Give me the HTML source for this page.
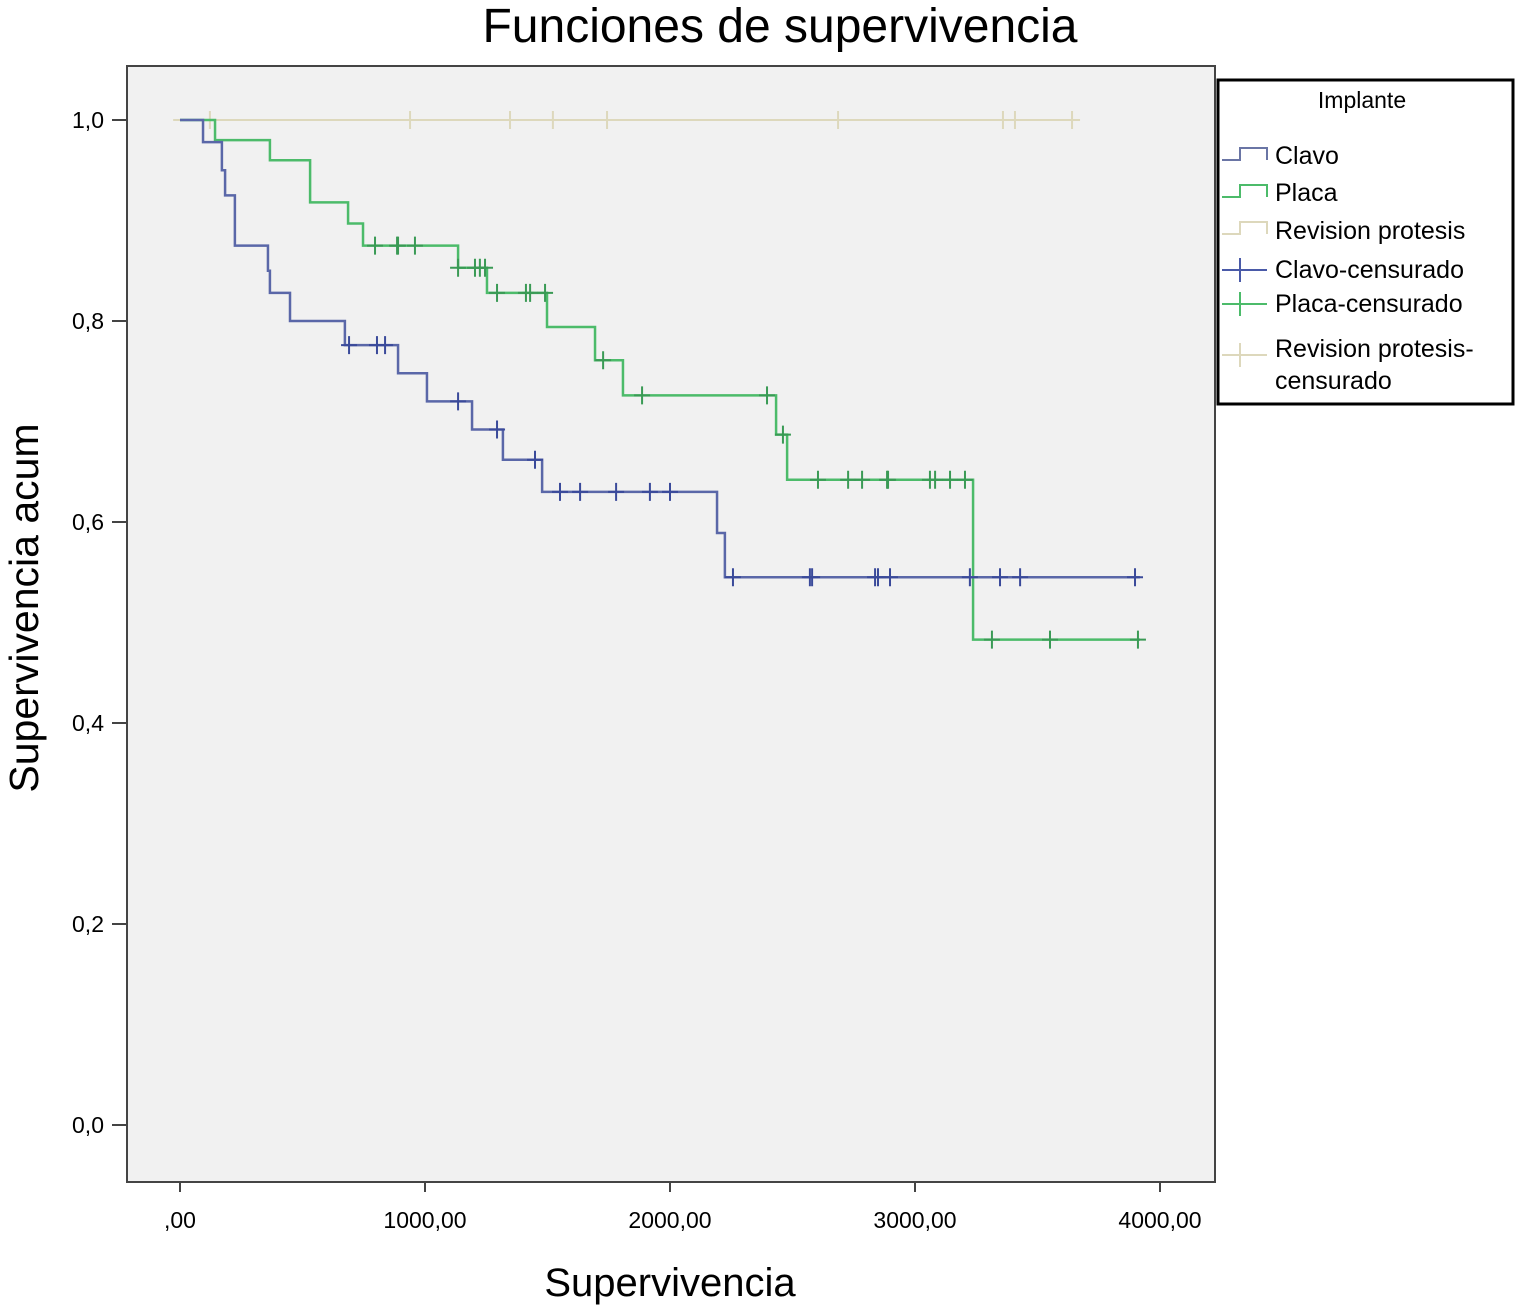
<!DOCTYPE html>
<html><head><meta charset="utf-8"><style>
body{margin:0;background:#fff;}
svg{display:block;font-family:"Liberation Sans",Arial,sans-serif;}
</style></head><body>
<svg id="c" width="1516" height="1305" viewBox="0 0 1516 1305">
<text x="780" y="42" font-size="48" text-anchor="middle">Funciones de supervivencia</text>
<rect x="127" y="66" width="1088" height="1116" fill="#f1f1f1" stroke="#444" stroke-width="2"/>
<g id="axes"></g>
<g id="marks"></g>
<text transform="translate(38,608) rotate(-90)" font-size="41" text-anchor="middle">Supervivencia acum</text>
<text x="670" y="1296" font-size="40" text-anchor="middle">Supervivencia</text>
<g>
<rect x="1218" y="80" width="295" height="324" fill="#fff" stroke="#000" stroke-width="3"/>
<text x="1362" y="108" font-size="23" text-anchor="middle">Implante</text>
<g><path d="M1222 160 H1240 V148 H1267 V160" fill="none" stroke="#6a75a5" stroke-width="2"/><text x="1275" y="164" font-size="25">Clavo</text></g>
<g><path d="M1222 197 H1240 V185 H1267 V197" fill="none" stroke="#4cbb6a" stroke-width="2"/><text x="1275" y="201" font-size="25">Placa</text></g>
<g><path d="M1222 234 H1240 V222 H1267 V234" fill="none" stroke="#ddd8bc" stroke-width="2"/><text x="1275" y="239" font-size="25">Revision protesis</text></g>
<g><path d="M1222 270 H1267 M1240 258 V282" stroke="#4a5aa8" stroke-width="2"/><text x="1275" y="278" font-size="25">Clavo-censurado</text></g>
<g><path d="M1222 304 H1267 M1240 292 V316" stroke="#4cbb6a" stroke-width="2"/><text x="1275" y="312" font-size="25">Placa-censurado</text></g>
<g><path d="M1222 355 H1267 M1240 343 V367" stroke="#ddd8bc" stroke-width="2"/><text x="1275" y="357" font-size="25">Revision protesis-</text><text x="1275" y="389" font-size="25">censurado</text></g>
</g>
</svg>
<script>
const clavoTimes=[94,171,184,224,359,367,449,673,890,1008,1192,1318,1478,2192,2224];
const clavoSurv=[0.978,0.95,0.925,0.875,0.85,0.828,0.80,0.776,0.748,0.72,0.692,0.662,0.63,0.589,0.545];
const clavoCens=[690,804,837,1135,1294,1449,1551,1633,1780,1918,2000,2257,2571,2580,2837,2849,2898,3224,3347,3429,3898];
const placaTimes=[143,367,531,686,747,1135,1253,1498,1694,1808,2433,2478,3237];
const placaSurv=[0.98,0.96,0.918,0.897,0.875,0.853,0.828,0.794,0.761,0.726,0.687,0.642,0.483];
const placaCens=[796,886,890,959,1135,1204,1224,1245,1294,1412,1429,1490,1727,1886,2396,2461,2604,2727,2784,2886,2890,3061,3082,3143,3204,3314,3551,3910];
const revCens=[122,939,1347,1522,1743,2686,3359,3408,3641];
const endTime=3918;
const xTicks=[0,1000,2000,3000,4000];
const xTickLabels=[",00","1000,00","2000,00","3000,00","4000,00"];
const yTicks=[0,0.2,0.4,0.6,0.8,1.0];
const yTickLabels=["0,0","0,2","0,4","0,6","0,8","1,0"];
const X=t=>180+t*0.245, Y=s=>1125-s*1005;
const NS="http://www.w3.org/2000/svg";
function mk(tag,attrs,parent){const e=document.createElementNS(NS,tag);for(const k in attrs)e.setAttribute(k,attrs[k]);parent.appendChild(e);return e;}
const axes=document.getElementById('axes'),marks=document.getElementById('marks');
xTicks.forEach((v,i)=>{
 const l=mk('line',{x1:X(v),x2:X(v),y1:1182,y2:1192,stroke:'#444','stroke-width':2},axes);
 
 
 const t=mk('text',{x:X(v),y:1228,'font-size':23,'text-anchor':'middle'},axes);t.textContent=xTickLabels[i];
 
 
});
yTicks.forEach((v,i)=>{
 const l=mk('line',{x1:112,x2:127,y1:Y(v),y2:Y(v),stroke:'#444','stroke-width':2},axes);
 
 
 const t=mk('text',{x:104,y:Y(v)+8,'font-size':23,'text-anchor':'end'},axes);t.textContent=yTickLabels[i];
 
 
});
function survAt(times,surv,t){let s=1;for(let i=0;i<times.length;i++){if(t>=times[i])s=surv[i];}return s;}
function stepPath(times,surv){let d=`M${X(0)} ${Y(1)}`;times.forEach((t,i)=>{d+=` H${X(t)} V${Y(surv[i])}`;});d+=` H${X(endTime)}`;return d;}
function censMarks(times,surv,cens,color,name){
 cens.forEach(t=>{const s=survAt(times,surv,t);
  const p=mk('path',{d:`M${X(t)-8} ${Y(s)} H${X(t)+8} M${X(t)} ${Y(s)-9} V${Y(s)+9}`,stroke:color,'stroke-width':2},marks);
  
  
 });
}
const rl=mk('path',{d:`M${X(-28)} ${Y(1)} H${X(3673)}`,stroke:'#ddd8bc','stroke-width':2,fill:'none'},marks);


censMarks([],[],revCens,'#ddd8bc','revision-censored-mark');
const pl=mk('path',{d:stepPath(placaTimes,placaSurv),stroke:'#4cbb6a','stroke-width':2.5,fill:'none'},marks);


censMarks(placaTimes,placaSurv,placaCens,'#3a9a55','placa-censored-mark');
const cl=mk('path',{d:stepPath(clavoTimes,clavoSurv),stroke:'#5a67a8','stroke-width':2.5,fill:'none'},marks);


censMarks(clavoTimes,clavoSurv,clavoCens,'#3a4a9a','clavo-censored-mark');
</script>
</body></html>
